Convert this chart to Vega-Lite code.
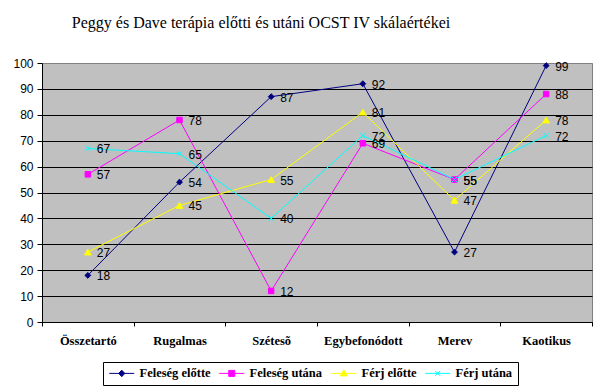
{
  "$schema": "https://vega.github.io/schema/vega-lite/v6.json",
  "width": 550,
  "height": 259,
  "autosize": "none",
  "padding": {"left": 42, "top": 63, "right": 7, "bottom": 67},
  "background": "white",
  "title": {
    "text": "Peggy és Dave terápia előtti és utáni OCST IV skálaértékei",
    "font": "Liberation Serif",
    "fontSize": 16,
    "fontWeight": "normal",
    "color": "black",
    "anchor": "middle",
    "dx": -56,
    "offset": 26
  },
  "data": {
    "values": [
      {"kategoria": "Összetartó", "i": 1, "sorozat": "Feleség előtte", "ertek": 18},
      {"kategoria": "Rugalmas", "i": 2, "sorozat": "Feleség előtte", "ertek": 54},
      {"kategoria": "Szétesõ", "i": 3, "sorozat": "Feleség előtte", "ertek": 87},
      {"kategoria": "Egybefonódott", "i": 4, "sorozat": "Feleség előtte", "ertek": 92},
      {"kategoria": "Merev", "i": 5, "sorozat": "Feleség előtte", "ertek": 27},
      {"kategoria": "Kaotikus", "i": 6, "sorozat": "Feleség előtte", "ertek": 99},
      {"kategoria": "Összetartó", "i": 1, "sorozat": "Feleség utána", "ertek": 57},
      {"kategoria": "Rugalmas", "i": 2, "sorozat": "Feleség utána", "ertek": 78},
      {"kategoria": "Szétesõ", "i": 3, "sorozat": "Feleség utána", "ertek": 12},
      {"kategoria": "Egybefonódott", "i": 4, "sorozat": "Feleség utána", "ertek": 69},
      {"kategoria": "Merev", "i": 5, "sorozat": "Feleség utána", "ertek": 55},
      {"kategoria": "Kaotikus", "i": 6, "sorozat": "Feleség utána", "ertek": 88},
      {"kategoria": "Összetartó", "i": 1, "sorozat": "Férj előtte", "ertek": 27},
      {"kategoria": "Rugalmas", "i": 2, "sorozat": "Férj előtte", "ertek": 45},
      {"kategoria": "Szétesõ", "i": 3, "sorozat": "Férj előtte", "ertek": 55},
      {"kategoria": "Egybefonódott", "i": 4, "sorozat": "Férj előtte", "ertek": 81},
      {"kategoria": "Merev", "i": 5, "sorozat": "Férj előtte", "ertek": 47},
      {"kategoria": "Kaotikus", "i": 6, "sorozat": "Férj előtte", "ertek": 78},
      {"kategoria": "Összetartó", "i": 1, "sorozat": "Férj utána", "ertek": 67},
      {"kategoria": "Rugalmas", "i": 2, "sorozat": "Férj utána", "ertek": 65},
      {"kategoria": "Szétesõ", "i": 3, "sorozat": "Férj utána", "ertek": 40},
      {"kategoria": "Egybefonódott", "i": 4, "sorozat": "Férj utána", "ertek": 72},
      {"kategoria": "Merev", "i": 5, "sorozat": "Férj utána", "ertek": 55},
      {"kategoria": "Kaotikus", "i": 6, "sorozat": "Férj utána", "ertek": 72}
    ]
  },
  "encoding": {
    "x": {
      "field": "kategoria",
      "type": "nominal",
      "sort": ["Összetartó", "Rugalmas", "Szétesõ", "Egybefonódott", "Merev", "Kaotikus"],
      "scale": {"type": "band", "paddingInner": 0, "paddingOuter": 0},
      "bandPosition": 0.5,
      "axis": {
        "title": null,
        "labelAngle": 0,
        "labelFont": "Liberation Serif",
        "labelFontWeight": "bold",
        "labelFontSize": 12.5,
        "labelColor": "black",
        "labelPadding": 8,
        "tickBand": "extent",
        "ticks": true,
        "tickColor": "black",
        "tickSize": 4,
        "domainColor": "black",
        "grid": false
      }
    },
    "y": {
      "field": "ertek",
      "type": "quantitative",
      "scale": {"domain": [0, 100], "nice": false},
      "axis": {
        "title": null,
        "values": [0, 10, 20, 30, 40, 50, 60, 70, 80, 90, 100],
        "labelFont": "Liberation Sans",
        "labelFontSize": 12,
        "labelColor": "black",
        "labelPadding": 4,
        "tickColor": "black",
        "tickSize": 5,
        "domainColor": "black",
        "grid": true,
        "gridColor": {"condition": {"test": "datum.value === 100", "value": "#808080"}, "value": "black"},
        "gridOpacity": 1
      }
    }
  },
  "layer": [
    {
      "mark": {"type": "line", "strokeWidth": 1},
      "encoding": {
        "order": {"field": "i", "type": "quantitative"},
        "color": {
          "field": "sorozat",
          "type": "nominal",
          "scale": {
            "domain": ["Feleség előtte", "Feleség utána", "Férj előtte", "Férj utána"],
            "range": ["#000080", "#FF00FF", "#FFFF00", "#00FFFF"]
          },
          "legend": {
            "title": null,
            "orient": "none",
            "legendX": 61,
            "legendY": 299,
            "direction": "horizontal",
            "strokeColor": "black",
            "fillColor": "white",
            "padding": 5,
            "labelFont": "Liberation Serif",
            "labelFontWeight": "bold",
            "labelFontSize": 12.5,
            "labelColor": "black",
            "labelLimit": 200,
            "labelOffset": 19,
            "columnPadding": 6,
            "symbolSize": 100,
            "symbolStrokeWidth": 1,
            "encode": {
              "symbols": {
                "update": {
                  "shape": {"signal": "datum.value === 'Feleség előtte' ? 'M-1,0L4,0M1.5,-0.65L2.1,0L1.5,0.65L0.9,0Z' : datum.value === 'Feleség utána' ? 'M-1,0L4,0M0.9,-0.6L2.1,-0.6L2.1,0.6L0.9,0.6Z' : datum.value === 'Férj előtte' ? 'M-1,0L4,0M1.5,-0.7L2.15,0.5L0.85,0.5Z' : 'M-1,0L4,0M1,-0.5L2,0.5M2,-0.5L1,0.5'"},
                  "size": {"value": 100},
                  "fill": {"signal": "scale('color', datum.value)"},
                  "stroke": {"signal": "scale('color', datum.value)"},
                  "strokeWidth": {"value": 1},
                  "strokeOpacity": {"value": 1},
                  "fillOpacity": {"value": 1},
                  "opacity": {"value": 1}
                }
              }
            }
          }
        }
      }
    },
    {
      "transform": [{"filter": "datum.sorozat === 'Feleség előtte'"}],
      "mark": {"type": "point", "shape": "diamond", "filled": true, "opacity": 1, "size": 34, "color": "#000080", "stroke": "#000080", "strokeWidth": 1}
    },
    {
      "transform": [{"filter": "datum.sorozat === 'Feleség utána'"}],
      "mark": {"type": "point", "shape": "square", "filled": true, "opacity": 1, "size": 30, "color": "#FF00FF", "stroke": "#FF00FF", "strokeWidth": 1}
    },
    {
      "transform": [{"filter": "datum.sorozat === 'Férj előtte'"}],
      "mark": {"type": "point", "shape": "triangle-up", "filled": true, "opacity": 1, "size": 45, "color": "#FFFF00", "stroke": "#FFFF00", "strokeWidth": 1}
    },
    {
      "transform": [{"filter": "datum.sorozat === 'Férj utána'"}],
      "mark": {"type": "point", "shape": "M-1,-1L1,1M1,-1L-1,1", "filled": false, "opacity": 1, "size": 30, "color": "#00FFFF", "strokeWidth": 1}
    },
    {
      "mark": {
        "type": "text",
        "align": "left",
        "baseline": "middle",
        "dx": 9,
        "dy": 1,
        "font": "Liberation Sans",
        "fontSize": 12,
        "color": "black"
      },
      "encoding": {
        "text": {"field": "ertek", "type": "quantitative"}
      }
    }
  ],
  "config": {
    "view": {"fill": "#C0C0C0", "stroke": "#808080"}
  }
}
